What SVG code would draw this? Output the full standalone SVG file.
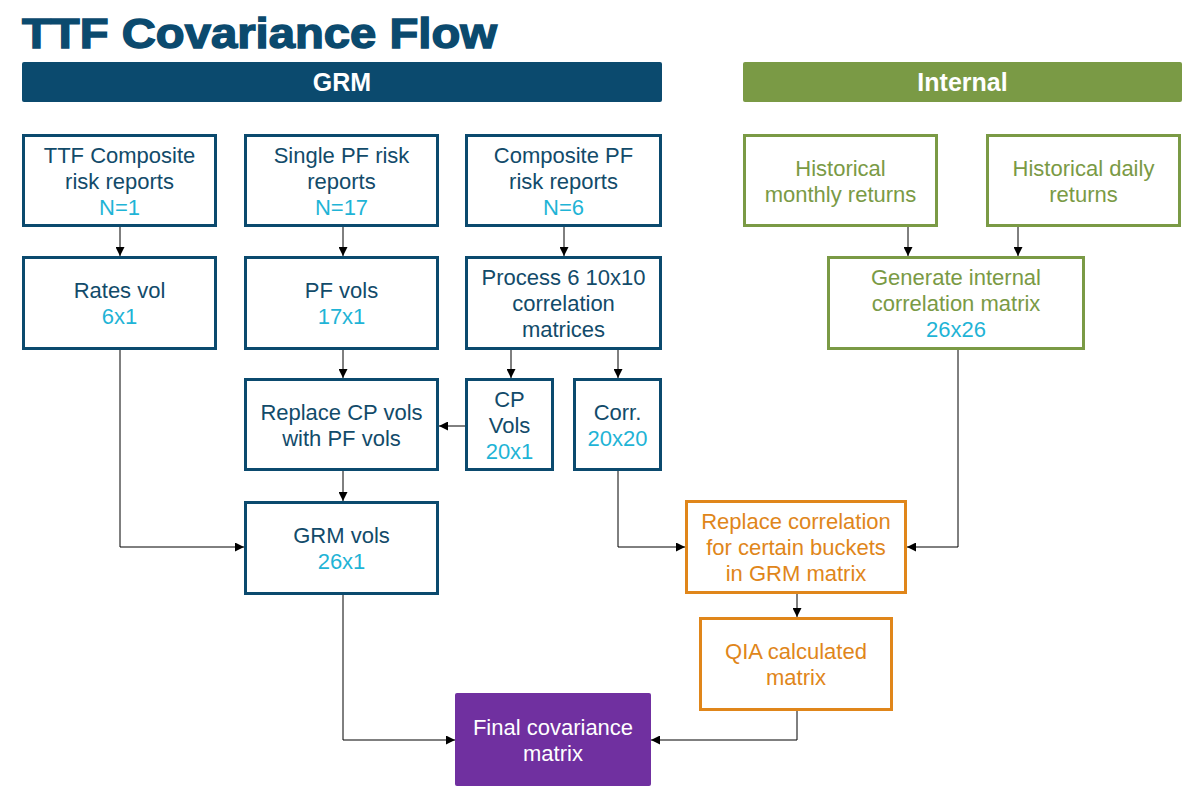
<svg xmlns="http://www.w3.org/2000/svg" width="1190" height="797" viewBox="0 0 1190 797">
  <defs>
    <marker id="arrow" markerUnits="userSpaceOnUse" markerWidth="9" markerHeight="9" refX="9" refY="4.5" orient="auto">
      <path d="M0,0 L9,4.5 L0,9 z" fill="#000"/>
    </marker>
    <style>
      text { font-family: "Liberation Sans", Arial, sans-serif; font-size: 22px; text-anchor: middle; }
      .title { font-size: 42px; font-weight: bold; fill: #0B4A6E; stroke: #0B4A6E; stroke-width: 1.4; text-anchor: start; }
      .hdr { font-size: 25px; font-weight: bold; fill: #fff; }
      .grm rect { fill: #fff; stroke: #0B4A6E; stroke-width: 3; }
      .grm text { fill: #124B6A; }
      .int rect { fill: #fff; stroke: #7A9A45; stroke-width: 3; }
      .int text { fill: #7A9A45; }
      .qia rect { fill: #fff; stroke: #E0861A; stroke-width: 3; }
      .qia text { fill: #E0861A; }
      .fin rect { fill: #7030A0; }
      .fin text { fill: #fff; }
      text.num { fill: #1FB4D6; }
      .conn path { fill: none; stroke: #000; stroke-width: 1; marker-end: url(#arrow); }
    </style>
  </defs>
  <rect width="1190" height="797" fill="#fff"/>

  <text class="title" x="22" y="48" textLength="475" lengthAdjust="spacingAndGlyphs">TTF Covariance Flow</text>

  <!-- section headers -->
  <g id="hdr-grm">
    <rect x="22" y="62" width="640" height="40" rx="2" fill="#0B4A6E"/>
    <text class="hdr" x="342" y="91">GRM</text>
  </g>
  <g id="hdr-internal">
    <rect x="743" y="62" width="439" height="40" rx="2" fill="#7A9A45"/>
    <text class="hdr" x="962.5" y="91">Internal</text>
  </g>

  <!-- connectors -->
  <g id="connectors" class="conn">
    <path d="M120,227 V256"/>
    <path d="M343,227 V256"/>
    <path d="M564,227 V256"/>
    <path d="M511,350 V378"/>
    <path d="M618,350 V378"/>
    <path d="M343,350 V378"/>
    <path d="M465,426 H439"/>
    <path d="M343,471 V501"/>
    <path d="M120,350 V547 H244"/>
    <path d="M908,227 V256"/>
    <path d="M1018,227 V256"/>
    <path d="M618,471 V547 H685"/>
    <path d="M958,350 V547 H907"/>
    <path d="M797,594 V617"/>
    <path d="M797,711 V740 H651"/>
    <path d="M343,595 V740 H455"/>
  </g>

  <!-- GRM nodes -->
  <g id="ttf-composite" class="grm">
    <rect x="23.5" y="135.5" width="192" height="90"/>
    <text x="119.5" y="163">TTF Composite</text>
    <text x="119.5" y="189">risk reports</text>
    <text class="num" x="119.5" y="215">N=1</text>
  </g>
  <g id="single-pf" class="grm">
    <rect x="245.5" y="135.5" width="192" height="90"/>
    <text x="341.5" y="163">Single PF risk</text>
    <text x="341.5" y="189">reports</text>
    <text class="num" x="341.5" y="215">N=17</text>
  </g>
  <g id="composite-pf" class="grm">
    <rect x="466.5" y="135.5" width="194" height="90"/>
    <text x="563.5" y="163">Composite PF</text>
    <text x="563.5" y="189">risk reports</text>
    <text class="num" x="563.5" y="215">N=6</text>
  </g>
  <g id="rates-vol" class="grm">
    <rect x="23.5" y="257.5" width="192" height="91"/>
    <text x="119.5" y="298">Rates vol</text>
    <text class="num" x="119.5" y="324">6x1</text>
  </g>
  <g id="pf-vols" class="grm">
    <rect x="245.5" y="257.5" width="192" height="91"/>
    <text x="341.5" y="298">PF vols</text>
    <text class="num" x="341.5" y="324">17x1</text>
  </g>
  <g id="process-corr" class="grm">
    <rect x="466.5" y="257.5" width="194" height="91"/>
    <text x="563.5" y="285">Process 6 10x10</text>
    <text x="563.5" y="311">correlation</text>
    <text x="563.5" y="337">matrices</text>
  </g>
  <g id="replace-cp" class="grm">
    <rect x="245.5" y="379.5" width="192" height="90"/>
    <text x="341.5" y="420">Replace CP vols</text>
    <text x="341.5" y="446">with PF vols</text>
  </g>
  <g id="cp-vols" class="grm">
    <rect x="466.5" y="379.5" width="86" height="90"/>
    <text x="509.5" y="407">CP</text>
    <text x="509.5" y="433">Vols</text>
    <text class="num" x="509.5" y="459">20x1</text>
  </g>
  <g id="corr" class="grm">
    <rect x="574.5" y="379.5" width="86" height="90"/>
    <text x="617.5" y="420">Corr.</text>
    <text class="num" x="617.5" y="446">20x20</text>
  </g>
  <g id="grm-vols" class="grm">
    <rect x="245.5" y="502.5" width="192" height="91"/>
    <text x="341.5" y="543">GRM vols</text>
    <text class="num" x="341.5" y="569">26x1</text>
  </g>

  <!-- internal nodes -->
  <g id="hist-monthly" class="int">
    <rect x="744.5" y="135.5" width="192" height="90"/>
    <text x="840.5" y="176">Historical</text>
    <text x="840.5" y="202">monthly returns</text>
  </g>
  <g id="hist-daily" class="int">
    <rect x="987.5" y="135.5" width="192" height="90"/>
    <text x="1083.5" y="176">Historical daily</text>
    <text x="1083.5" y="202">returns</text>
  </g>
  <g id="internal-corr" class="int">
    <rect x="828.5" y="257.5" width="255" height="91"/>
    <text x="956" y="285">Generate internal</text>
    <text x="956" y="311">correlation matrix</text>
    <text class="num" x="956" y="337">26x26</text>
  </g>

  <!-- QIA nodes -->
  <g id="replace-corr" class="qia">
    <rect x="686.5" y="501.5" width="219" height="91"/>
    <text x="796" y="529">Replace correlation</text>
    <text x="796" y="555">for certain buckets</text>
    <text x="796" y="581">in GRM matrix</text>
  </g>
  <g id="qia-matrix" class="qia">
    <rect x="700.5" y="618.5" width="191" height="91"/>
    <text x="796" y="659">QIA calculated</text>
    <text x="796" y="685">matrix</text>
  </g>

  <!-- result -->
  <g id="final-cov" class="fin">
    <rect x="455" y="693" width="196" height="93" rx="2"/>
    <text x="553" y="735">Final covariance</text>
    <text x="553" y="761">matrix</text>
  </g>
</svg>
